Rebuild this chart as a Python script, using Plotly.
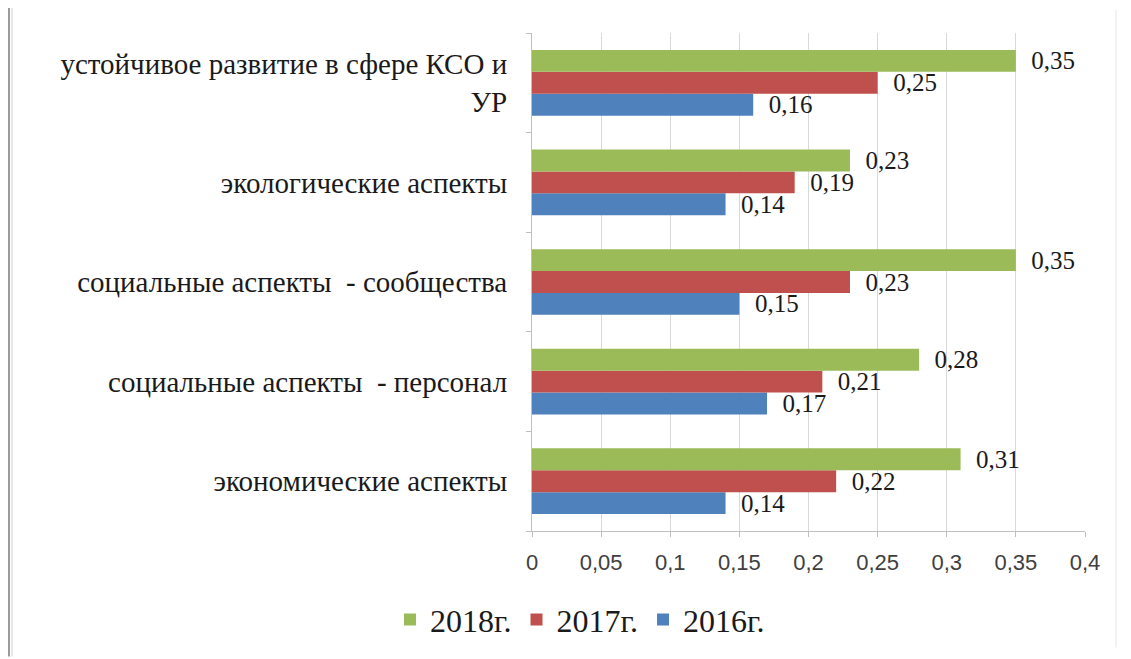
import plotly.graph_objects as go

categories = ["экономические аспекты", "социальные аспекты  - персонал",
              "социальные аспекты  - сообщества", "экологические аспекты",
              "устойчивое развитие в сфере КСО и<br>УР"]
v2016 = [0.14, 0.17, 0.15, 0.14, 0.16]
v2017 = [0.22, 0.21, 0.23, 0.19, 0.25]
v2018 = [0.31, 0.28, 0.35, 0.23, 0.35]
series_names = ["2016г.", "2017г.", "2018г."]
colors = ["#4F81BD", "#C0504D", "#9BBB59"]
x_ticks = [0, 0.05, 0.1, 0.15, 0.2, 0.25, 0.3, 0.35, 0.4]

SERIF = "Liberation Serif, Times New Roman, serif"
SANS = "Liberation Sans, Arial, sans-serif"

# page body has an 8px margin; figure coordinates = screen coordinates - 8
OFF = 8
W, H = 1131 - OFF, 659 - OFF
L, R, T, B = 532 - OFF, W - (1085 - OFF), 33 - OFF, H - (533 - OFF)
pw, ph = W - L - R, H - T - B

fig = go.Figure()
for name, vals, col in zip(series_names, [v2016, v2017, v2018], colors):
    fig.add_trace(go.Bar(
        y=categories, x=vals, orientation="h", name=name,
        marker=dict(color=col, line=dict(width=0)),
        text=["\u00a0\u00a0" + f"{v:.2f}".replace(".", ",") for v in vals],
        textposition="outside", cliponaxis=False, constraintext="none",
        textfont=dict(family=SERIF, size=25, color="#1a1a1a"),
    ))

def px(xs):
    return (xs - OFF - L) / pw

def py(ys):
    return (H - B - (ys - OFF)) / ph

shapes = [
    dict(type="line", xref="paper", yref="paper", x0=px(9), x1=px(9), y0=py(0), y1=py(H + OFF),
         line=dict(color="#9a9a9a", width=2)),
    dict(type="line", xref="paper", yref="paper", x0=px(12), x1=px(12), y0=py(0), y1=py(H + OFF),
         line=dict(color="#d0d0d0", width=1)),
    dict(type="line", xref="paper", yref="paper", x0=px(1116), x1=px(1116), y0=py(10), y1=py(650),
         line=dict(color="#e6e6e6", width=1)),
]

fig.update_layout(
    width=W, height=H,
    margin=dict(l=L, r=R, t=T, b=B),
    paper_bgcolor="white", plot_bgcolor="white",
    separators=", ",
    barmode="group", bargap=0.34, bargroupgap=0,
    showlegend=True,
    legend=dict(orientation="h", x=px(580), xanchor="center", y=py(622), yanchor="middle",
                traceorder="reversed",
                font=dict(family=SERIF, size=32, color="#1a1a1a"),
                itemwidth=30),
    xaxis=dict(range=[0, 0.4], tickvals=x_ticks, showgrid=True, gridcolor="#d9d9d9",
               gridwidth=1, zeroline=False, showline=True, linecolor="#bfbfbf",
               ticks="outside", ticklen=5, tickcolor="#bfbfbf", ticklabelstandoff=7,
               tickfont=dict(family=SANS, size=22, color="#404040")),
    yaxis=dict(showline=True, linecolor="#bfbfbf", ticks="outside", ticklen=5,
               tickcolor="#bfbfbf", tickson="boundaries", showgrid=False,
               ticklabelstandoff=18,
               tickfont=dict(family=SERIF, size=29, color="#1a1a1a")),
    shapes=shapes,
)

fig.write_html("out.html")
